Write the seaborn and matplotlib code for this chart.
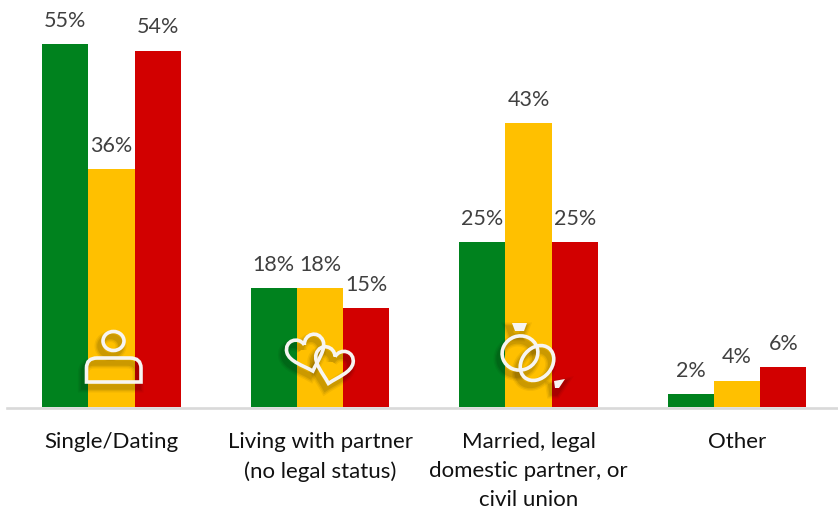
import matplotlib
matplotlib.use("Agg")
import matplotlib.pyplot as plt
import numpy as np
import pandas as pd
import seaborn as sns
from matplotlib.patches import Ellipse, PathPatch, Polygon
from matplotlib.path import Path
from matplotlib.transforms import Affine2D

categories = ["Single/Dating", "Living with partner\n(no legal status)",
              "Married, legal\ndomestic partner, or\ncivil union", "Other"]
series_names = ["Group 1", "Group 2", "Group 3"]
group_1 = [55, 18, 25, 2]
group_2 = [36, 18, 43, 4]
group_3 = [54, 15, 25, 6]
palette = ["#00821E", "#FFC000", "#D20000"]

W, H = 838, 509
AXIS_LEFT, BASELINE = 7, 407
PX_PER_PCT = 6.6
FIRST_CENTER, SPACING = 111.5, 208.5

sns.set_theme(style="white")
plt.rcParams["font.family"] = ["Lato", "DejaVu Sans"]

df = pd.DataFrame({
    "category": np.tile(categories, 3),
    "series": np.repeat(series_names, 4),
    "value": group_1 + group_2 + group_3,
})

fig = plt.figure(figsize=(W / 100, H / 100), dpi=100, facecolor="white")
ax = fig.add_axes([AXIS_LEFT / W, 1 - BASELINE / H, 1 - AXIS_LEFT / W, BASELINE / H])
sns.barplot(data=df, x="category", y="value", hue="series", order=categories,
            hue_order=series_names, palette=palette, width=0.666, gap=0,
            saturation=1, legend=False, linewidth=0, ax=ax)

ax.set_xlim((AXIS_LEFT - FIRST_CENTER) / SPACING, (W - FIRST_CENTER) / SPACING)
ax.set_ylim(0, BASELINE / PX_PER_PCT)
ax.set_xlabel("")
ax.set_ylabel("")
ax.set_yticks([])
for side in ("left", "right", "top"):
    ax.spines[side].set_visible(False)
ax.spines["bottom"].set_color("#D9D9D9")
ax.spines["bottom"].set_linewidth(1.9)
ax.spines["bottom"].set_position(("outward", 0.8))
ax.patch.set_alpha(0)
ax.tick_params(axis="x", length=0, pad=17)
for lab in ax.get_xticklabels():
    lab.set_fontsize(16)
    lab.set_color("#111111")
    lab.set_linespacing(1.58)

for container in ax.containers:
    ax.bar_label(container, fmt="%d%%", padding=9.5, fontsize=15.5, color="#404040")

# Decorative icons, laid out in image pixels with y pointing down
to_px = Affine2D().scale(1, -1).translate(0, H)


def heart_path(cx, cy, size, angle):
    verts = np.array([
        (0, -0.45), (0.15, -1.0), (0.95, -1.0), (1.0, -0.35),
        (1.02, 0.15), (0.4, 0.55), (0, 1.0),
        (-0.4, 0.55), (-1.02, 0.15), (-1.0, -0.35),
        (-0.95, -1.0), (-0.15, -1.0), (0, -0.45),
    ]) * size
    t = np.radians(angle)
    rot = np.array([[np.cos(t), -np.sin(t)], [np.sin(t), np.cos(t)]])
    verts = verts @ rot.T + (cx, cy)
    codes = [Path.MOVETO] + [Path.CURVE4] * 12
    return Path(verts, codes)


person_body = Path(
    [(86.5, 382), (86.5, 368), (86.5, 358), (97, 358), (130, 358), (141, 358),
     (141, 368), (141, 382), (86.5, 382)],
    [Path.MOVETO, Path.LINETO, Path.CURVE3, Path.CURVE3, Path.LINETO,
     Path.CURVE3, Path.CURVE3, Path.LINETO, Path.CLOSEPOLY],
)


def icon_shapes():
    """Build each icon's outline and solid pieces as fresh artists."""
    outlines = [
        Ellipse((113.5, 341), 21, 19),
        PathPatch(person_body),
        PathPatch(heart_path(307, 353, 19, -18)),
        PathPatch(heart_path(333, 365, 19, 14)),
        Ellipse((520, 353), 36, 34, angle=-20),
        Ellipse((537, 363), 30, 38, angle=40),
    ]
    solids = [
        Polygon([(512, 323), (527, 323), (524, 331), (515, 331)]),
        Polygon([(554, 381), (565, 379), (559, 388), (555, 388)]),
    ]
    return outlines, solids


# Soft drop shadow: widening translucent strokes, nudged down and left
for lw, alpha in [(8, 0.05), (6, 0.07), (4, 0.09)]:
    shift = to_px.frozen() + Affine2D().translate(-3, -5)
    outlines, solids = icon_shapes()
    for shape in outlines + solids:
        shape.set(transform=shift, fill=False, edgecolor="black", linewidth=lw,
                  alpha=alpha, clip_on=False, zorder=4)
        ax.add_artist(shape)

outlines, solids = icon_shapes()
for shape in outlines:
    shape.set(transform=to_px, fill=False, edgecolor="#F7F5F2", linewidth=2.6,
              clip_on=False, zorder=5)
    ax.add_artist(shape)
for shape in solids:
    shape.set(transform=to_px, facecolor="#F7F5F2", edgecolor="none",
              clip_on=False, zorder=5)
    ax.add_artist(shape)

fig.savefig("out.png", dpi=100, facecolor="white")
